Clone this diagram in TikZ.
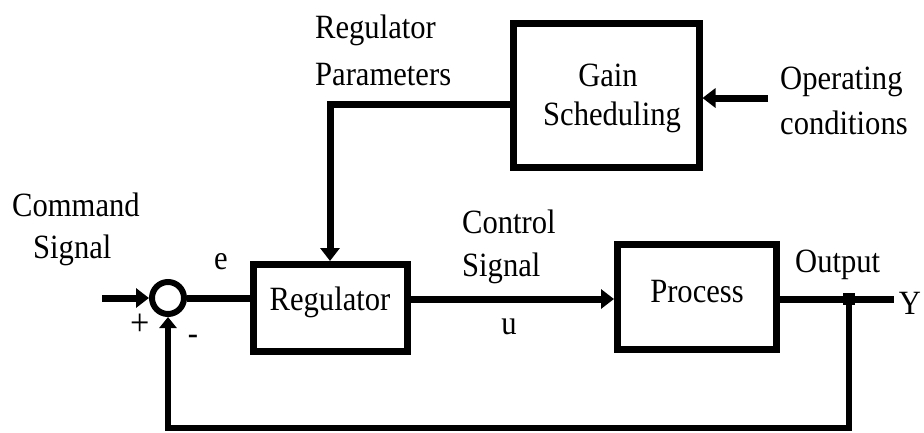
\documentclass[tikz,border=0pt]{standalone}
\usepackage{fontspec}
\setmainfont{Liberation Serif}[FakeStretch=0.9]
\usetikzlibrary{arrows.meta}
\begin{document}
\begin{tikzpicture}[x=1pt,y=-1pt,
  txt/.style={font=\fontsize{34}{40}\selectfont, inner sep=0pt},
  blk/.style={draw, line width=7pt, inner sep=0pt},
  wire/.style={line width=7pt},
  arr/.style={line width=7pt, -{Triangle[length=13pt,width=19pt]}},
  farr/.style={line width=6pt, -{Triangle[length=11pt,width=17pt]}}]
\useasboundingbox (0,0) rectangle (924,432);
% blocks
\node[draw, circle, line width=6pt, minimum size=32pt, inner sep=0pt] (sum) at (168,298) {};
\node[blk, minimum width=154pt, minimum height=87pt] (reg) at (330,308) {};
\node[txt] (regt) at (330,302) {Regulator};
\node[blk, minimum width=159pt, minimum height=105pt] (proc) at (697,297) {};
\node[txt] (proct) at (697,292) {Process};
\node[blk, minimum width=186pt, minimum height=144pt] (gain) at (606,95) {};
\node[txt] (gaint1) at (608,75) {Gain};
\node[txt] (gaint2) at (612,117) {Scheduling};
% labels
\node[txt, anchor=west] (rp1) at (315,30) {Regulator};
\node[txt, anchor=west] (rp2) at (315,75) {Parameters};
\node[txt, anchor=west] (oc1) at (780,82) {Operating};
\node[txt, anchor=west] (oc2) at (780,123) {conditions};
\node[txt, anchor=west] (cs1) at (12,205) {Command};
\node[txt, anchor=west] (cs2) at (33,250) {Signal};
\node[txt] (el) at (221,262) {e};
\node[txt, font=\fontsize{38}{40}\selectfont] (pl) at (140,325) {+};
\node[txt] (ml) at (193,340) {-};
\node[txt, anchor=west] (ct1) at (462,222) {Control};
\node[txt, anchor=west] (ct2) at (462,268) {Signal};
\node[txt] (ul) at (509,327) {u};
\node[txt, anchor=west] (ol) at (795,265) {Output};
\node[txt] (yl) at (910,303) {Y};
% coordinates
\coordinate (cin) at (102,298);
\coordinate (opin) at (768,98);
\coordinate (yout) at (894,299);
\coordinate (junc) at (849,299);
\coordinate (fbl) at (849,428);
% connectors
\draw[arr] (cin) -- (sum.west);
\draw[wire] (sum.east) -- (reg.west |- sum.east);
\draw[arr] ([yshift=-9pt]gain.west) -| (reg.north);
\draw[arr] (opin) -- (gain.east |- opin);
\draw[arr] (reg.east |- junc) -- (proc.west |- junc);
\draw[wire] (proc.east |- junc) -- (yout);
\draw[farr] (junc) -- (fbl) -| (sum.south);
\fill ([xshift=-6pt,yshift=-6pt]junc) rectangle ([xshift=6pt,yshift=6pt]junc);
\end{tikzpicture}
\end{document}
